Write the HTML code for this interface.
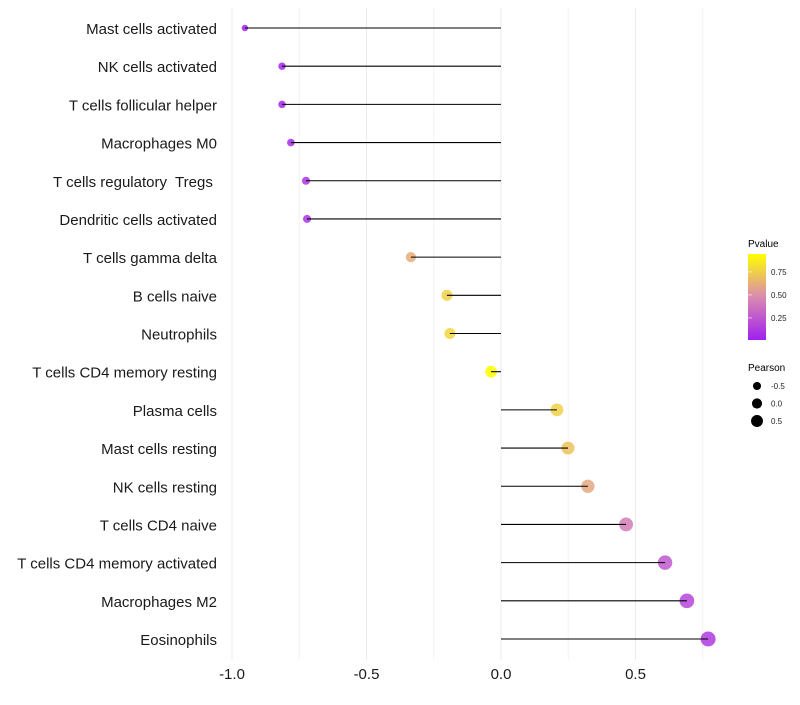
<!DOCTYPE html>
<html><head><meta charset="utf-8"><style>
body{margin:0;background:#fff;font-family:"Liberation Sans",sans-serif}
text{white-space:pre}
</style></head><body>
<svg id="chart" width="800" height="700" xmlns="http://www.w3.org/2000/svg">
<defs><linearGradient id="pg" x1="0" y1="1" x2="0" y2="0">
<stop offset="0" stop-color="#a020f0"/><stop offset="0.5" stop-color="#da8ab0"/><stop offset="1" stop-color="#ffff00"/>
</linearGradient></defs>
<g id="grid"></g><g id="dots"></g><g id="marks"></g><g id="labels"></g>
<g>
<text x="748" y="247" font-size="10">Pvalue</text>
<rect x="748" y="254" width="18" height="86" fill="url(#pg)"/>
<g id="cbticks"></g>
<text x="748" y="371" font-size="10">Pearson</text>
<g id="sizeleg"></g>
</g>
</svg>
<script>
const categories=["Mast cells activated","NK cells activated","T cells follicular helper","Macrophages M0","T cells regulatory  Tregs ","Dendritic cells activated","T cells gamma delta","B cells naive","Neutrophils","T cells CD4 memory resting","Plasma cells","Mast cells resting","NK cells resting","T cells CD4 naive","T cells CD4 memory activated","Macrophages M2","Eosinophils"];
const pearson=[-0.952,-0.814,-0.814,-0.781,-0.725,-0.721,-0.335,-0.201,-0.190,-0.037,0.208,0.249,0.323,0.465,0.610,0.691,0.770];
const pvalue=[0.01,0.04,0.04,0.06,0.10,0.10,0.62,0.76,0.78,0.95,0.76,0.70,0.60,0.42,0.26,0.18,0.12];
const xTicks=[-1.0,-0.5,0.0,0.5];
const xTickLabels=["-1.0","-0.5","0.0","0.5"];
const xMinor=[-0.75,-0.25,0.25,0.75];
const cbTicks=[0.25,0.50,0.75];
const sizeLegend=[-0.5,0.0,0.5];
const NS="http://www.w3.org/2000/svg";
const x=v=>501+v*269;
const y=i=>28+i*(639-28)/16;
const pMin=0.01,pMax=0.945;
const yc=p=>340-(p-pMin)/(pMax-pMin)*86;
const rad=v=>Math.sqrt(Math.max(1,31.1+23.2*v))*1.07;
function lerp(a,b,t){return a.map((c,i)=>Math.round(c+(b[i]-c)*t));}
function col(p){const t=Math.min(1,Math.max(0,(p-pMin)/(pMax-pMin)));const A=[160,32,240],M=[218,138,176],B=[255,255,0];const c=t<0.5?lerp(A,M,t*2):lerp(M,B,(t-0.5)*2);return `rgb(${c})`;}
function mk(tag,at,parent){const e=document.createElementNS(NS,tag);for(const k in at)e.setAttribute(k,at[k]);parent.appendChild(e);return e;}
const grid=document.getElementById('grid'),marks=document.getElementById('marks'),dots=document.getElementById('dots'),labels=document.getElementById('labels');
xMinor.forEach(v=>{const l=mk('line',{x1:x(v),x2:x(v),y1:8,y2:660,stroke:'#f3f3f3','stroke-width':1},grid);

});
xTicks.forEach((v,i)=>{const l=mk('line',{x1:x(v),x2:x(v),y1:8,y2:660,stroke:'#ebebeb','stroke-width':1},grid);


const t=mk('text',{x:x(v),y:679,'font-size':15,'text-anchor':'middle',fill:'#1a1a1a'},labels);t.textContent=xTickLabels[i];

});
categories.forEach((c,i)=>{
const t=mk('text',{x:217,y:y(i)+6,'font-size':15,'text-anchor':'end',fill:'#1a1a1a'},labels);t.textContent=c;


const d=mk('circle',{cx:x(pearson[i]),cy:y(i),r:rad(pearson[i]),fill:col(pvalue[i]),'fill-opacity':0.85},dots);


const l=mk('line',{x1:x(0),x2:x(pearson[i]),y1:y(i),y2:y(i),stroke:'#000','stroke-width':1.1},marks);


});
const cb=document.getElementById('cbticks');
cbTicks.forEach(p=>{const t=mk('text',{x:771,y:yc(p)+3,'font-size':8,fill:'#222'},cb);t.textContent=p.toFixed(2);


const l=mk('line',{x1:748,x2:752,y1:yc(p),y2:yc(p),stroke:'#fff','stroke-width':0.6},cb);
});
const sl=document.getElementById('sizeleg');
sizeLegend.forEach((v,i)=>{const cy=386+i*17.5;const d=mk('circle',{cx:757,cy:cy,r:rad(v)*0.85,fill:'#000'},sl);


const t=mk('text',{x:771,y:cy+3,'font-size':8,fill:'#222'},sl);t.textContent=v.toFixed(1);

});
</script>
</body></html>
